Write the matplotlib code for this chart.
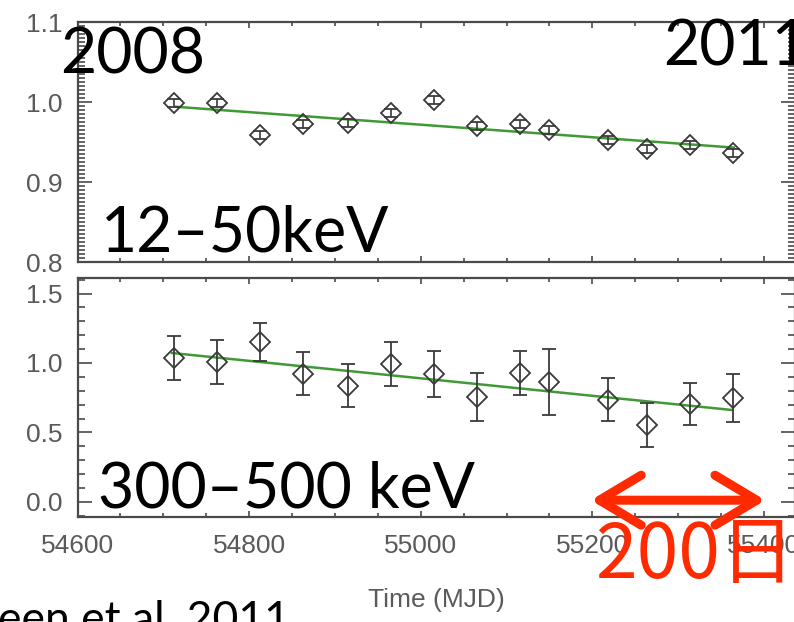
import matplotlib
matplotlib.use("Agg")
import matplotlib.pyplot as plt
from matplotlib.ticker import MultipleLocator, FixedLocator
from matplotlib.patches import FancyArrowPatch, ArrowStyle

# ---------------- data ----------------
mjd = [54712, 54763, 54813, 54863, 54915, 54965, 55015, 55066, 55116, 55150,
       55218, 55264, 55314, 55364]
rate_12_50 = [0.999, 0.999, 0.959, 0.973, 0.974, 0.986, 1.002, 0.970, 0.972,
              0.965, 0.953, 0.941, 0.946, 0.936]
err_12_50 = [0.005] * 14
rate_300_500 = [1.036, 1.007, 1.151, 0.921, 0.835, 0.993, 0.921, 0.755, 0.928,
                0.863, 0.734, 0.554, 0.705, 0.748]
err_300_500 = [0.158, 0.155, 0.14, 0.155, 0.155, 0.16, 0.165, 0.17, 0.158,
               0.24, 0.155, 0.16, 0.15, 0.17]
fit_x_top = [54715, 55365]
fit_y_top = [0.994, 0.943]
fit_x_bot = [54710, 55362]
fit_y_bot = [1.072, 0.662]
xticks = [54600, 54800, 55000, 55200, 55400]
xticklabels = ["54600", "54800", "55000", "55200", "55400"]
yticks_top = [0.8, 0.9, 1.0, 1.1]
yticklabels_top = ["0.8", "0.9", "1.0", "1.1"]
yticks_bot = [0.0, 0.5, 1.0, 1.5]
yticklabels_bot = ["0.0", "0.5", "1.0", "1.5"]
arrow_x = [55195, 55405]
arrow_y = 0.012

# ---------------- style ----------------
W, H = 794, 622
fig = plt.figure(figsize=(W / 100, H / 100), dpi=100)
fig.patch.set_facecolor("white")

gray = "#5a5a5a"
framec = "#4a4a4a"
green = "#3f9a35"
tickfont = dict(family="Liberation Sans", size=19, color=gray)

XMIN, XMAX = 54600, 55436
left = 77.5 / W
width = 1 - left + 0.001

ax1 = fig.add_axes([left, 1 - 262 / H, width, (262 - 22) / H])
ax2 = fig.add_axes([left, 1 - 517 / H, width, (517 - 278) / H])


def style_axes(ax):
    for s in ax.spines.values():
        s.set_color(framec)
        s.set_linewidth(1.6)
    ax.set_xlim(XMIN, XMAX)
    ax.xaxis.set_major_locator(FixedLocator(xticks))
    ax.xaxis.set_minor_locator(MultipleLocator(50))
    ax.tick_params(axis="x", which="both", direction="in", top=True, bottom=True,
                   color=framec, width=1.2)
    ax.tick_params(axis="x", which="major", length=4, pad=12)
    ax.tick_params(axis="x", which="minor", length=3)
    ax.tick_params(axis="y", which="both", direction="in", left=True, right=True,
                   color=framec, width=1.2)
    ax.tick_params(axis="y", which="major", length=10, pad=11)
    ax.tick_params(axis="y", which="minor", length=5)


style_axes(ax1)
style_axes(ax2)

# top panel
ax1.set_ylim(0.8, 1.1)
ax1.yaxis.set_major_locator(FixedLocator(yticks_top))
ax1.yaxis.set_minor_locator(MultipleLocator(0.005))
ax1.set_yticklabels(yticklabels_top, **tickfont)
ax1.set_xticklabels([])
ax1.plot(fit_x_top, fit_y_top, color=green, lw=1.8, zorder=2)
ax1.errorbar(mjd, rate_12_50, yerr=err_12_50, fmt="D", ms=10, mfc="none",
             mec="#3a3a3a", mew=1.3, ecolor="#3a3a3a", elinewidth=1.2,
             capsize=5, capthick=1.2, zorder=3)

# bottom panel
ax2.set_ylim(-0.109, 1.612)
ax2.yaxis.set_major_locator(FixedLocator(yticks_bot))
ax2.yaxis.set_minor_locator(MultipleLocator(0.1))
ax2.set_yticklabels(yticklabels_bot, **tickfont)
ax2.set_xticklabels(xticklabels, **tickfont)
ax2.plot(fit_x_bot, fit_y_bot, color=green, lw=1.8, zorder=2)
ax2.errorbar(mjd, rate_300_500, yerr=err_300_500, fmt="D", ms=10, mfc="none",
             mec="#3a3a3a", mew=1.3, ecolor="#3a3a3a", elinewidth=1.3,
             capsize=5, capthick=1.3, zorder=3)
ax2.set_xlabel("Time (MJD)", family="Liberation Sans", size=19, color=gray,
               labelpad=22)

# ---------------- overlaid annotations ----------------
big = dict(family=["Lato", "DejaVu Sans"], size=45, color="black")
fig.text(60 / W, 1 - 73 / H, "2008", ha="left", va="baseline", **big)
fig.text(663 / W, 1 - 65 / H, "2011", ha="left", va="baseline", **big)
fig.text(101 / W, 1 - 252 / H, "12\u201350keV", ha="left", va="baseline", **big)
fig.text(98 / W, 1 - 508 / H, "300\u2013500 keV", ha="left", va="baseline", **big)
fig.text(-2 / W, 1 - 633 / H, "een et al. 2011", ha="left", va="baseline",
         family=["Lato", "DejaVu Sans"], size=32, color="black")

red = "#ff2a00"
arr = FancyArrowPatch((arrow_x[0], arrow_y), (arrow_x[1], arrow_y),
                      arrowstyle=ArrowStyle("<->", head_length=30, head_width=18),
                      mutation_scale=1, lw=6.5, color=red, clip_on=False,
                      transform=ax2.transData, zorder=10)
ax2.add_patch(arr)
fig.text(595 / W, 1 - 578 / H, "200\u65e5", ha="left", va="baseline",
         family=["Noto Sans CJK JP", "DejaVu Sans"], size=54, color=red,
         zorder=10)

fig.savefig("out.png", dpi=100)
